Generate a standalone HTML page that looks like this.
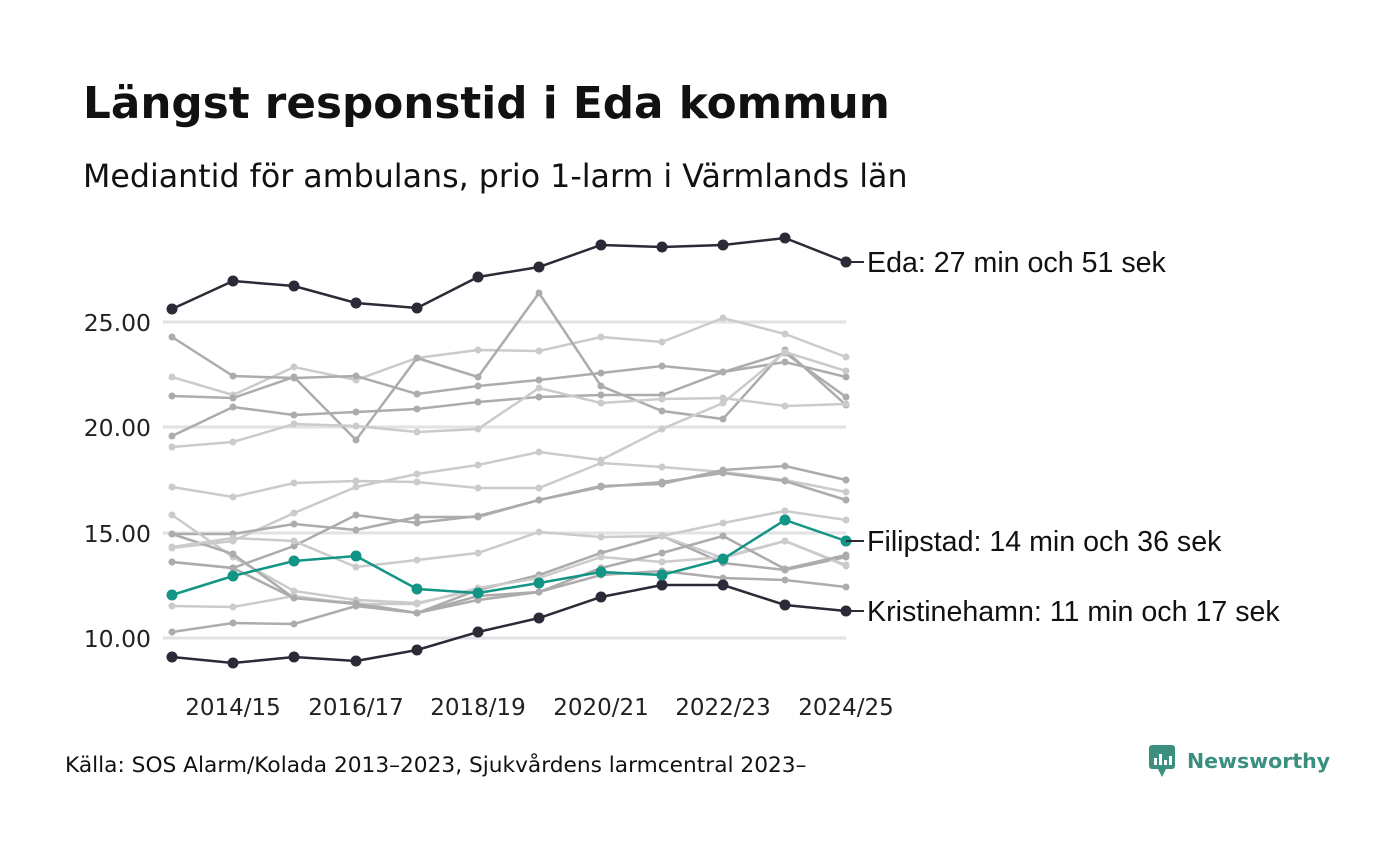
<!DOCTYPE html>
<html><head><meta charset="utf-8"><style>
body{margin:0;background:#fff;width:1400px;height:840px;overflow:hidden;font-family:"DejaVu Sans","Liberation Sans",sans-serif;}
</style></head><body>
<svg width="1400" height="840" xmlns="http://www.w3.org/2000/svg">
<text x="83" y="118" font-size="43.7" font-weight="bold" fill="#111" font-family="DejaVu Sans, sans-serif">Längst responstid i Eda kommun</text>
<text x="83" y="187" font-size="31.7" fill="#111" font-family="DejaVu Sans, sans-serif">Mediantid för ambulans, prio 1-larm i Värmlands län</text>
<g stroke="#e2e2e6" stroke-width="3">
<line x1="163" y1="322" x2="846" y2="322"/><line x1="163" y1="427" x2="846" y2="427"/>
<line x1="163" y1="533" x2="846" y2="533"/><line x1="163" y1="638" x2="846" y2="638"/></g>
<g font-size="23.5" fill="#222" text-anchor="end" font-family="DejaVu Sans, sans-serif">
<text x="151" y="331">25.00</text><text x="151" y="436">20.00</text><text x="151" y="542">15.00</text><text x="151" y="647">10.00</text></g>
<g font-size="23" fill="#222" text-anchor="middle" font-family="DejaVu Sans, sans-serif">
<text x="233" y="715">2014/15</text><text x="356" y="715">2016/17</text><text x="478" y="715">2018/19</text><text x="601" y="715">2020/21</text><text x="723" y="715">2022/23</text><text x="846" y="715">2024/25</text></g>
<g id="lines"></g>
<g font-size="28.6" fill="#111" font-family="Liberation Sans, sans-serif">
<line x1="846" y1="262" x2="864" y2="262" stroke="#2b2a36" stroke-width="2"/>
<text x="867" y="272">Eda: 27 min och 51 sek</text>
<line x1="846" y1="541" x2="864" y2="541" stroke="#2b2a36" stroke-width="2"/>
<text x="867" y="551">Filipstad: 14 min och 36 sek</text>
<line x1="846" y1="611" x2="864" y2="611" stroke="#2b2a36" stroke-width="2"/>
<text x="867" y="621">Kristinehamn: 11 min och 17 sek</text></g>
<text x="65" y="772" font-size="21.7" fill="#111" font-family="DejaVu Sans, sans-serif">Källa: SOS Alarm/Kolada 2013–2023, Sjukvårdens larmcentral 2023–</text>
<rect x="1149" y="745" width="26" height="24" rx="3" fill="#3a8f7e"/>
<polygon points="1158,769 1166,769 1162,777" fill="#3a8f7e"/>
<g fill="#fff"><rect x="1154" y="758" width="3" height="7"/><rect x="1159" y="754" width="3" height="11"/><rect x="1164" y="760" width="3" height="5"/><rect x="1169" y="756" width="3" height="9"/></g>
<text x="1187" y="768" font-size="20.5" font-weight="bold" fill="#3a8f7e" font-family="DejaVu Sans, sans-serif">Newsworthy</text>
</svg>
<script>
var X=[172,233,294,356,417,478,539,601,662,723,785,846];
var L='#cbcbcb',M='#acacac';
var series=[
[L,377,395,367,380,358,350,351,337,342,318,334,357],
[M,337,376,378,376,394,386,380,373,366,372,362,377],
[M,396,398,377,440,358,377,293,386,411,419,350,405],
[M,436,407,415,412,409,402,397,395,395,372,353,397],
[L,447,442,424,426,432,429,388,403,399,398,406,404],
[L,548,541,513,487,474,465,452,460,429,403,352,371],
[L,487,497,483,481,482,488,488,463,467,472,480,492],
[M,534,534,524,530,517,517,500,486,484,470,466,480],
[M,562,568,546,515,523,516,500,487,482,473,481,500],
[L,515,557,591,600,603,590,575,553,536,523,511,520],
[M,534,554,598,603,613,590,575,553,536,563,570,557],
[L,547,538,541,567,560,553,532,537,536,558,541,565],
[L,606,607,596,604,604,588,578,557,562,557,541,566],
[M,632,623,624,606,613,600,592,568,553,536,569,555],
[M,562,568,598,604,613,596,592,575,571,578,580,587],
['#2b2a36',309,281,286,303,308,277,267,245,247,245,238,262],
['#2b2a36',657,663,657,661,650,632,618,597,585,585,605,611],
['#139585',595,576,561,556,589,593,583,572,575,559,520,541]];
var s='';
series.forEach(function(a,i){var c=a[0],big=i>=15;var p=X.map(function(x,j){return x+','+a[j+1]}).join(' ');
s+='<polyline points="'+p+'" fill="none" stroke="'+c+'" stroke-width="2.5"/>';
X.forEach(function(x,j){s+='<circle cx="'+x+'" cy="'+a[j+1]+'" r="'+(big?5.5:3.5)+'" fill="'+c+'"/>';});});
document.getElementById('lines').innerHTML=s;
</script>
</body></html>
